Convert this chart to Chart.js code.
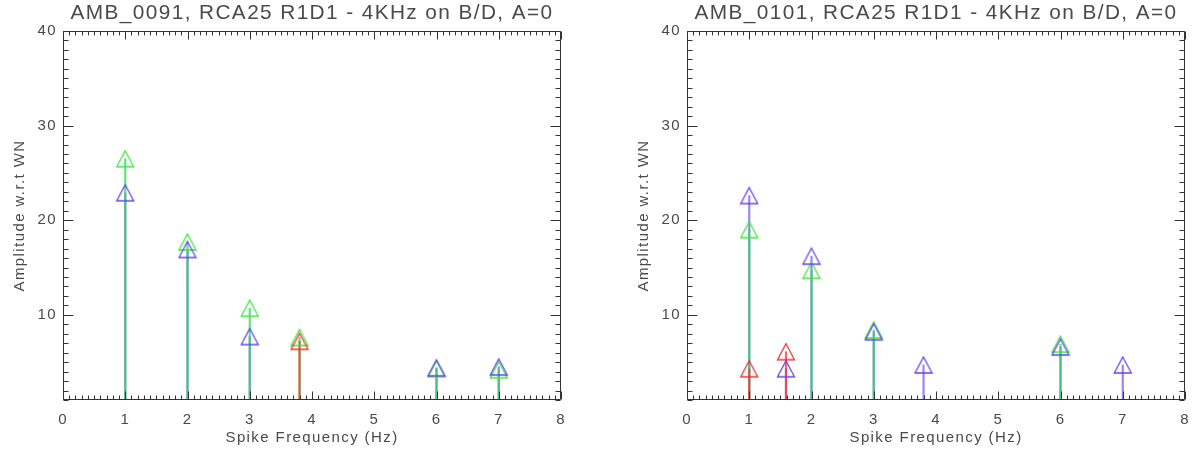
<!DOCTYPE html>
<html>
<head>
<meta charset="utf-8">
<script src="https://cdn.jsdelivr.net/npm/chart.js@4.4.1/dist/chart.umd.min.js"></script>
<style>
  html, body { margin: 0; padding: 0; background: #fff; }
  #wrap { position: relative; width: 1200px; height: 453px; }
  canvas { position: absolute; top: 0; }
</style>
</head>
<body>
<div id="wrap">
  <canvas id="gauche" width="600" height="453" style="left:0"></canvas>
  <canvas id="droite" width="600" height="453" style="left:600px"></canvas>
</div>
<script>
// ==================== DONNÉES ====================

// AXES
const X_MIN = 0, X_MAX = 8;
const Y_MIN = 1, Y_MAX = 40;
const xTicks = [0, 1, 2, 3, 4, 5, 6, 7, 8];
const yTicks = [10, 20, 30, 40];
const xTitle = "Spike Frequency (Hz)";
const yTitle = "Amplitude w.r.t WN";

// PANNEAU GAUCHE — AMB_0091
const titleA = "AMB_0091, RCA25 R1D1 - 4KHz on B/D, A=0";
const greenFreqA = [1, 2, 3, 3.8, 6, 7];
const greenAmpA  = [26.5, 17.7, 10.7, 7.6, 4.3, 4.2];
const blueFreqA  = [1, 2, 3, 6, 7];
const blueAmpA   = [22.9, 16.9, 7.7, 4.4, 4.5];
const redFreqA   = [3.8];
const redAmpA    = [7.2];

// PANNEAU DROIT — AMB_0101
const titleB = "AMB_0101, RCA25 R1D1 - 4KHz on B/D, A=0";
const greenFreqB = [1, 2, 3, 6];
const greenAmpB  = [19.0, 14.7, 8.4, 6.9];
const blueFreqB  = [1, 1.59, 2, 3, 3.8, 6, 7];
const blueAmpB   = [22.6, 4.3, 16.2, 8.2, 4.7, 6.6, 4.7];
const redFreqB   = [1, 1.59];
const redAmpB    = [4.3, 6.1];

// COULEURS
const GREEN = "#3de83d";
const BLUE = "#6646ee";
const RED = "#ee3535";
const STEM_GREEN = "rgba(45,215,90,0.75)";
const STEM_BLUE = "rgba(110,80,235,0.7)";
const STEM_RED = "rgba(250,55,45,0.78)";
const TEXT = "#4a4a4a";
const FONT = "'Liberation Sans', Arial, sans-serif";

// ==================== TRIANGLE CREUX (CENTRÉ SUR LA BOÎTE) ====================
function triangle(color) {
    const c = document.createElement("canvas");
    c.width = 20;
    c.height = 20;
    const g = c.getContext("2d");
    g.strokeStyle = color;
    g.lineWidth = 1.3;
    g.beginPath();
    g.moveTo(10, 2);
    g.lineTo(18.5, 18);
    g.lineTo(1.5, 18);
    g.closePath();
    g.stroke();
    return c;
}

// TIGES (BARRES FLOTTANTES FINES)
function stems(freq, amp, color, order) {
    return {
        type: "bar",
        data: freq.map((f, i) => ({ x: f, y: [Y_MIN, amp[i]] })),
        backgroundColor: color,
        borderWidth: 0,
        barThickness: 1.5,
        grouped: false,
        order: order
    };
}

// SYMBOLES
function marks(freq, amp, color, order) {
    return {
        type: "scatter",
        data: freq.map((f, i) => ({ x: f, y: amp[i] })),
        pointStyle: triangle(color),
        pointRadius: 8,
        showLine: false,
        order: order
    };
}

// ==================== CADRE + GRADUATIONS VERS L'INTÉRIEUR ====================
const cadre = {
    id: "cadre",
    beforeDraw(chart) {
        chart.ctx.letterSpacing = "1.4px";
    },
    afterDatasetsDraw(chart) {
        const { ctx, chartArea: a, scales: { x, y } } = chart;
        const L = Math.round(a.left) + 0.5, R = Math.round(a.right) - 0.5;
        const T = Math.round(a.top) + 0.5, B = Math.round(a.bottom) - 0.5;
        ctx.save();
        ctx.strokeStyle = "#333";
        ctx.lineWidth = 1;
        ctx.beginPath();
        ctx.rect(L, T, R - L, B - T);

        // X : MINEURES TOUS LES 0.1
        const nx = Math.round((X_MAX - X_MIN) * 10);
        for (let i = 0; i <= nx; i++) {
            const px = Math.round(x.getPixelForValue(X_MIN + i / 10)) + 0.5;
            const len = i % 10 === 0 ? 8 : 4;
            ctx.moveTo(px, B); ctx.lineTo(px, B - len);
            ctx.moveTo(px, T); ctx.lineTo(px, T + len);
        }
        // Y : MINEURES TOUS LES 1
        for (let v = Y_MIN; v <= Y_MAX; v++) {
            const py = Math.round(y.getPixelForValue(v)) + 0.5;
            const len = yTicks.includes(v) ? 10 : 5;
            ctx.moveTo(L, py); ctx.lineTo(L + len, py);
            ctx.moveTo(R, py); ctx.lineTo(R - len, py);
        }
        ctx.stroke();
        ctx.restore();
    }
};

// ==================== GRAPHIQUE ====================
function makeChart(id, title, g, b, r, padLeft, padRight) {
    return new Chart(document.getElementById(id), {
        type: "scatter",
        data: {
            datasets: [
                stems(b.f, b.a, STEM_BLUE, 13),
                stems(g.f, g.a, STEM_GREEN, 12),
                stems(r.f, r.a, STEM_RED, 11),
                marks(g.f, g.a, GREEN, 3),
                marks(b.f, b.a, BLUE, 2),
                marks(r.f, r.a, RED, 1)
            ]
        },
        options: {
            responsive: false,
            animation: false,
            layout: {
                padding: { left: padLeft, right: padRight, top: 0, bottom: 0 }
            },
            plugins: {
                legend: { display: false },
                tooltip: { enabled: false },
                title: {
                    display: true,
                    fullSize: false,
                    text: title,
                    color: TEXT,
                    padding: { top: 1.2, bottom: 4.8 },
                    font: { family: FONT, size: 20.8, weight: "normal", lineHeight: 1.2 }
                }
            },
            scales: {
                x: {
                    type: "linear",
                    min: X_MIN,
                    max: X_MAX,
                    offset: false,
                    grid: { display: false, drawTicks: false },
                    border: { display: false },
                    afterBuildTicks(s) { s.ticks = xTicks.map(v => ({ value: v })); },
                    afterFit(s) { s.height = 53; s.paddingLeft = 0; s.paddingRight = 0; },
                    ticks: {
                        autoSkip: false,
                        maxRotation: 0,
                        padding: 11,
                        color: TEXT,
                        font: { family: FONT, size: 15 }
                    },
                    title: {
                        display: true,
                        text: xTitle,
                        color: TEXT,
                        padding: { top: 0, bottom: 6 },
                        font: { family: FONT, size: 15, lineHeight: 1.2 }
                    }
                },
                y: {
                    type: "linear",
                    min: Y_MIN,
                    max: Y_MAX,
                    beginAtZero: false,
                    grid: { display: false, drawTicks: false },
                    border: { display: false },
                    afterBuildTicks(s) { s.ticks = yTicks.map(v => ({ value: v })); },
                    afterFit(s) { s.width = 63; s.paddingTop = 0; s.paddingBottom = 0; },
                    ticks: {
                        padding: 6,
                        color: TEXT,
                        font: { family: FONT, size: 15 }
                    },
                    title: {
                        display: true,
                        text: yTitle,
                        color: TEXT,
                        padding: { top: 11, bottom: 0 },
                        font: { family: FONT, size: 15, lineHeight: 1.2 }
                    }
                }
            }
        },
        plugins: [cadre]
    });
}

makeChart("gauche", titleA,
    { f: greenFreqA, a: greenAmpA }, { f: blueFreqA, a: blueAmpA }, { f: redFreqA, a: redAmpA }, 0, 39);
makeChart("droite", titleB,
    { f: greenFreqB, a: greenAmpB }, { f: blueFreqB, a: blueAmpB }, { f: redFreqB, a: redAmpB }, 24, 15);
</script>
</body>
</html>
